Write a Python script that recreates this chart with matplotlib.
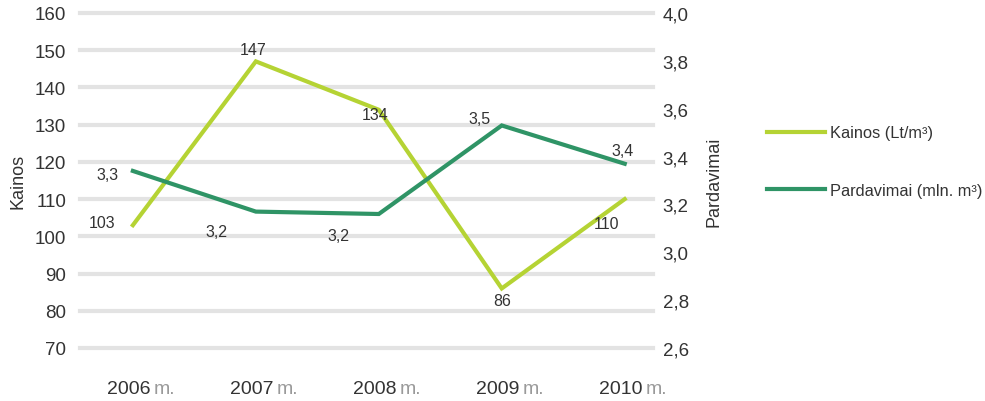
import matplotlib
matplotlib.use("Agg")
import matplotlib.pyplot as plt
from matplotlib.lines import Line2D
import matplotlib.transforms as mtransforms

plt.rcParams['font.family'] = ['Liberation Sans', 'DejaVu Sans']

years = ["2006", "2007", "2008", "2009", "2010"]
kainos = [103, 147, 134, 86, 110]
pardavimai = [3.34, 3.17, 3.16, 3.53, 3.37]
left_ticks = [70, 80, 90, 100, 110, 120, 130, 140, 150, 160]
right_ticks = [2.6, 2.8, 3.0, 3.2, 3.4, 3.6, 3.8, 4.0]

c_kainos = "#b5d334"
c_pard = "#2f9466"
txt = "#333333"

fig = plt.figure(figsize=(9.85, 4.02), dpi=100)
ax = fig.add_axes([80/985, 53/402, 573/985, 335/402])
ax2 = ax.twinx()

x = list(range(len(years)))
ax.set_xlim(-0.43, 4.23)
ax.set_ylim(70, 160)
ax2.set_ylim(2.6, 4.0)

ax.set_yticks(left_ticks)
ax.set_yticklabels([str(v) for v in left_ticks])
ax2.set_yticks(right_ticks)
ax2.set_yticklabels([f"{v:.1f}".replace(".", ",") for v in right_ticks])

for a in (ax, ax2):
    for s in a.spines.values():
        s.set_visible(False)
    a.tick_params(axis='both', length=0, colors=txt, labelsize=13.5)
ax.tick_params(axis='y', pad=10)
ax2.tick_params(axis='y', pad=7)
ax.yaxis.grid(True, color="#e3e3e3", linewidth=3)
ax.set_axisbelow(True)
for gl in ax.get_ygridlines():
    gl.set_clip_on(False)
ax.set_xticks([])

ax.set_ylabel("Kainos", fontsize=13, color=txt, labelpad=6)
ax2.set_ylabel("Pardavimai", fontsize=13, color=txt, labelpad=12)

ax.plot(x, kainos, color=c_kainos, linewidth=3, solid_joinstyle='miter', zorder=3)
ax2.plot(x, pardavimai, color=c_pard, linewidth=3, solid_joinstyle='miter', zorder=3)

k_off = [(-31, 3), (-3, 4), (-4, -5), (0, -12), (-18, -24)]
k_va = ['center', 'bottom', 'center', 'center', 'center']
for xi, v, off, va in zip(x, kainos, k_off, k_va):
    ax.annotate(str(v), (xi, v), xytext=off, textcoords='offset pixels',
                ha='center', va=va, fontsize=11.5, color=txt, zorder=5)

p_off = [(-25, -4), (-39, -20), (-40, -22), (-22, 7), (-2, 13)]
for xi, v, off in zip(x, pardavimai, p_off):
    ax2.annotate(f"{v:.1f}".replace(".", ","), (xi, v), xytext=off,
                 textcoords='offset pixels', ha='center', va='center',
                 fontsize=11.5, color=txt, zorder=5)

# x category labels (year dark, "m." gray)
trans = mtransforms.blended_transform_factory(ax.transData, ax.transAxes)
for p, yr in zip(x, years):
    ax.annotate(yr, (p, 0), xycoords=trans, xytext=(18, -41),
                textcoords='offset pixels', ha='right', va='center',
                fontsize=14, color=txt, annotation_clip=False)
    ax.annotate("m.", (p, 0), xycoords=trans, xytext=(21, -41),
                textcoords='offset pixels', ha='left', va='center',
                fontsize=14, color="#9a9a9a", annotation_clip=False)

handles = [Line2D([], [], color=c_kainos, linewidth=3),
           Line2D([], [], color=c_pard, linewidth=3)]
fig.legend(handles, ["Kainos (Lt/m³)", "Pardavimai (mln. m³)"],
           loc='center left', bbox_to_anchor=(767/985, 1 - 162.5/402),
           frameon=False, fontsize=11.8, handlelength=3.55, handletextpad=0.3,
           labelspacing=2.58, labelcolor=txt, borderpad=0, borderaxespad=0)

fig.savefig("out.png", dpi=100)
